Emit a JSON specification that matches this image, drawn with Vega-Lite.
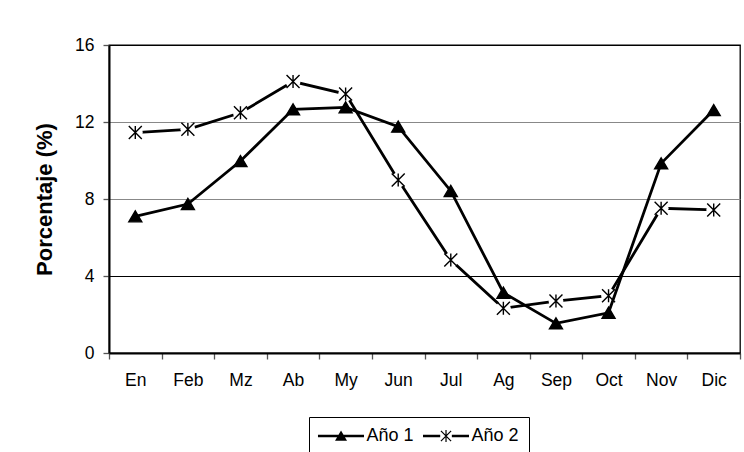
{
  "$schema": "https://vega.github.io/schema/vega-lite/v6.json",
  "autosize": {"type": "none"},
  "width": 631,
  "height": 308,
  "padding": {"left": 109, "top": 45, "right": 4, "bottom": 99},
  "background": "white",
  "config": {
    "font": "Liberation Sans",
    "view": {"stroke": "#000", "strokeWidth": 1.3},
    "axis": {"labelFont": "Liberation Sans", "labelColor": "#000", "titleColor": "#000", "domainColor": "#000", "domainWidth": 2, "tickColor": "#555", "tickWidth": 1.3}
  },
  "data": {
    "values": [
      {"mes": "En", "serie": "Año 1", "valor": 7.1},
      {"mes": "Feb", "serie": "Año 1", "valor": 7.74},
      {"mes": "Mz", "serie": "Año 1", "valor": 9.97},
      {"mes": "Ab", "serie": "Año 1", "valor": 12.66},
      {"mes": "My", "serie": "Año 1", "valor": 12.76},
      {"mes": "Jun", "serie": "Año 1", "valor": 11.76},
      {"mes": "Jul", "serie": "Año 1", "valor": 8.42},
      {"mes": "Ag", "serie": "Año 1", "valor": 3.13},
      {"mes": "Sep", "serie": "Año 1", "valor": 1.54},
      {"mes": "Oct", "serie": "Año 1", "valor": 2.09},
      {"mes": "Nov", "serie": "Año 1", "valor": 9.85},
      {"mes": "Dic", "serie": "Año 1", "valor": 12.62},
      {"mes": "En", "serie": "Año 2", "valor": 11.45},
      {"mes": "Feb", "serie": "Año 2", "valor": 11.62},
      {"mes": "Mz", "serie": "Año 2", "valor": 12.48},
      {"mes": "Ab", "serie": "Año 2", "valor": 14.1},
      {"mes": "My", "serie": "Año 2", "valor": 13.45},
      {"mes": "Jun", "serie": "Año 2", "valor": 8.99},
      {"mes": "Jul", "serie": "Año 2", "valor": 4.83},
      {"mes": "Ag", "serie": "Año 2", "valor": 2.32},
      {"mes": "Sep", "serie": "Año 2", "valor": 2.7},
      {"mes": "Oct", "serie": "Año 2", "valor": 2.98},
      {"mes": "Nov", "serie": "Año 2", "valor": 7.52},
      {"mes": "Dic", "serie": "Año 2", "valor": 7.43}
    ]
  },
  "encoding": {
    "x": {
      "field": "mes", "type": "ordinal", "bandPosition": 0.5,
      "sort": ["En", "Feb", "Mz", "Ab", "My", "Jun", "Jul", "Ag", "Sep", "Oct", "Nov", "Dic"],
      "scale": {"type": "band", "paddingInner": 0, "paddingOuter": 0},
      "axis": {"title": null, "labelAngle": 0, "tickBand": "extent", "tickSize": 6, "labelPadding": 12, "labelFontSize": 17.5, "grid": false}
    },
    "y": {
      "field": "valor", "type": "quantitative",
      "scale": {"domain": [0, 16], "nice": false},
      "axis": {
        "title": "Porcentaje (%)", "titleFontSize": 22, "titleFontWeight": "bold", "titleFont": "Liberation Sans", "titlePadding": 18,
        "values": [0, 4, 8, 12, 16], "tickSize": 6, "labelPadding": 9, "labelFontSize": 17.5,
        "grid": true,
        "gridColor": {"condition": {"test": "datum.value == 4 || datum.value == 16", "value": "#000"}, "value": "#888"},
        "gridWidth": 1.2
      }
    }
  },
  "layer": [
    {
      "transform": [{"filter": "datum.serie == 'Año 2'"}],
      "mark": {"type": "line", "color": "#000", "strokeWidth": 2.8}
    },
    {
      "transform": [{"filter": "datum.serie == 'Año 2'"}],
      "mark": {"type": "point", "shape": "circle", "filled": true, "color": "white", "opacity": 1, "size": 220}
    },
    {
      "transform": [{"filter": "datum.serie == 'Año 1'"}],
      "mark": {"type": "line", "color": "#000", "strokeWidth": 2.8}
    },
    {
      "mark": {"type": "point", "stroke": "#000", "strokeWidth": 1.4, "opacity": 1, "size": 169},
      "encoding": {
        "shape": {
          "field": "serie", "type": "nominal",
          "scale": {"domain": ["Año 1", "Año 2"], "range": ["M-1,0.85L0,-0.85L1,0.85Z", "M-1,-1L1,1M-1,1L1,-1M0,-1L0,1"]},
          "legend": null
        },
        "fill": {
          "field": "serie", "type": "nominal",
          "scale": {"domain": ["Año 1", "Año 2"], "range": ["#000", "transparent"]},
          "legend": null
        }
      }
    },
    {
      "mark": {"type": "point", "filled": true, "fill": "#000", "strokeWidth": 0, "opacity": 0, "size": 144},
      "encoding": {
        "shape": {
          "field": "serie", "type": "nominal",
          "scale": {"range": [
            "M-1.67,-0.22L6,-0.22L6,0.22L-1.67,0.22ZM1.17,0.8L2.17,-0.9L3.17,0.8Z",
            "M-1.67,-0.22L1.2,-0.22L1.2,0.22L-1.67,0.22ZM3.14,-0.22L6,-0.22L6,0.22L3.14,0.22ZM2.07,-1L2.27,-1L2.27,1L2.07,1ZM1.25,-0.78L1.39,-0.92L3.09,0.78L2.95,0.92ZM1.25,0.78L2.95,-0.92L3.09,-0.78L1.39,0.92Z"
          ]},
          "legend": {
            "orient": "none", "legendX": 200, "legendY": 372, "direction": "horizontal", "title": null,
            "labelFontSize": 18, "labelFont": "Liberation Sans", "labelColor": "#000",
            "strokeColor": "#000", "fillColor": "white", "padding": 10, "cornerRadius": 0,
            "symbolSize": 144, "symbolStrokeWidth": 0, "symbolOpacity": 1,
            "symbolFillColor": "#000",
            "labelOffset": 29.5, "columnPadding": 8
          }
        }
      }
    }
  ],
  "resolve": {"scale": {"shape": "independent"}, "legend": {"shape": "independent"}}
}
